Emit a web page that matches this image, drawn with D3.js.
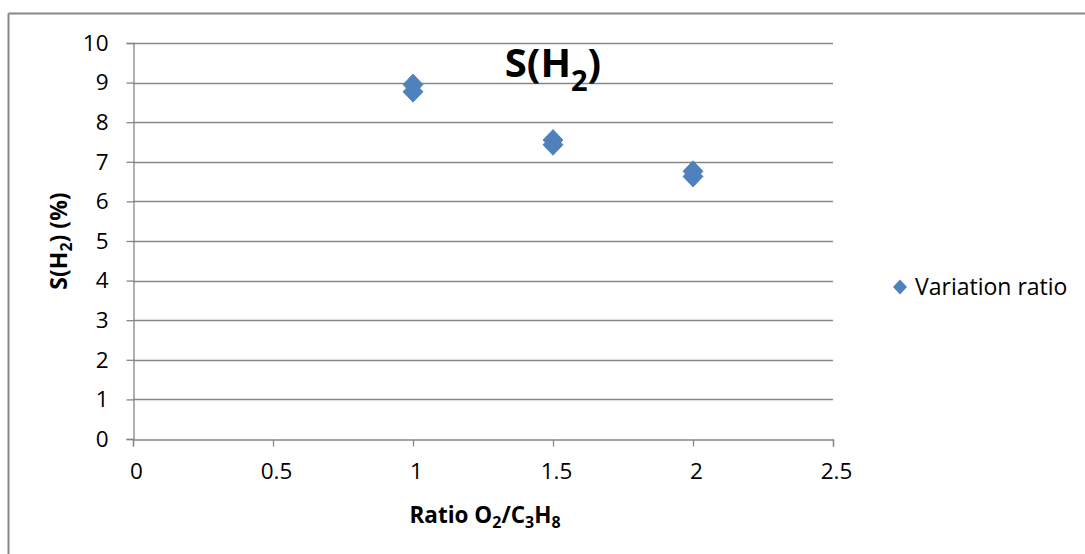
<!DOCTYPE html>
<html>
<head>
<meta charset="utf-8">
<script src="https://cdn.jsdelivr.net/npm/d3@7/dist/d3.min.js"></script>
<style>
  html, body { margin: 0; padding: 0; background: #fff; }
  svg { display: block; }
  text { font-family: "Open Sans", "Noto Sans", sans-serif; fill: #000; }
</style>
</head>
<body>
<svg id="chart" width="1085" height="554"></svg>
<script>
// ---- data ----
const ratios = [1, 1, 1.5, 1.5, 2, 2];
const selectivityH2 = [8.95, 8.77, 7.55, 7.43, 6.76, 6.63];
const xTicks = [0, 0.5, 1, 1.5, 2, 2.5];
const yTicks = [0, 1, 2, 3, 4, 5, 6, 7, 8, 9, 10];
const seriesName = "Variation ratio";

(function () {
const svg = d3.select("#chart");
const W = 1085, H = 554;
const pLeft = 133, pRight = 833, pTop = 43, pBottom = 439;
const gridColor = "#868686";
const blue = "#4F81BD";

// outer frame (top and left edges visible)
svg.append("line").attr("x1", 8.5).attr("x2", 1085).attr("y1", 13.5).attr("y2", 13.5)
  .attr("stroke", "#878787").attr("stroke-width", 2);
svg.append("line").attr("x1", 8.5).attr("x2", 8.5).attr("y1", 13.5).attr("y2", H)
  .attr("stroke", "#878787").attr("stroke-width", 2);

const x = d3.scaleLinear().domain([0, 2.5]).range([pLeft, pRight]);
const y = d3.scaleLinear().domain([0, 10]).range([pBottom, pTop]);

// gridlines
svg.append("g").selectAll("line").data(yTicks.filter(d => d > 0)).join("line")
  .attr("x1", pLeft).attr("x2", pRight)
  .attr("y1", d => Math.round(y(d)) + 0.5).attr("y2", d => Math.round(y(d)) + 0.5)
  .attr("stroke", gridColor).attr("stroke-width", 1.3);

// y axis
const yAxis = d3.axisLeft(y).tickValues(yTicks).tickSize(7).tickPadding(18).tickFormat(d3.format("d"));
const gy = svg.append("g").attr("transform", `translate(${pLeft + 0.5},0)`).call(yAxis);
gy.select(".domain").attr("stroke", gridColor).attr("stroke-width", 1.3);
gy.selectAll(".tick line").attr("stroke", gridColor).attr("stroke-width", 1.3);
gy.selectAll(".tick text").attr("font-size", 22.5).attr("font-family", "Open Sans").attr("fill", "#000");

// x axis
const xAxis = d3.axisBottom(x).tickValues(xTicks).tickSize(7).tickPadding(17).tickFormat(d => String(d));
const gx = svg.append("g").attr("transform", `translate(0,${pBottom + 0.5})`).call(xAxis);
gx.select(".domain").attr("stroke", gridColor).attr("stroke-width", 1.3);
gx.selectAll(".tick line").attr("stroke", gridColor).attr("stroke-width", 1.3);
gx.selectAll(".tick text").attr("font-size", 22.5).attr("font-family", "Open Sans").attr("fill", "#000")
  .attr("dx", 3);

// points (diamonds)
const diamond = (cx, cy, hw, hh) => `M${cx},${cy - hh}L${cx + hw},${cy}L${cx},${cy + hh}L${cx - hw},${cy}Z`;
svg.append("g").selectAll("path").data(ratios.map((r, i) => [r, selectivityH2[i]])).join("path")
  .attr("d", d => diamond(x(d[0]), y(d[1]), 10, 10.5))
  .attr("fill", blue).attr("stroke", "#4A7DBA").attr("stroke-width", 0.8);

// title
const title = svg.append("text").attr("x", 553).attr("y", 77).attr("text-anchor", "middle")
  .attr("font-weight", "bold").attr("font-size", 40);
title.append("tspan").text("S(H");
title.append("tspan").text("2").attr("font-size", 29).attr("dy", 14);
title.append("tspan").text(")").attr("dy", -14);

// y axis title
const yt = svg.append("text").attr("transform", "translate(67,241) rotate(-90)")
  .attr("text-anchor", "middle").attr("font-weight", "bold").attr("font-size", 23);
yt.append("tspan").text("S(H");
yt.append("tspan").text("2").attr("font-size", 16).attr("dy", 5);
yt.append("tspan").text(") (%)").attr("dy", -5);

// x axis title
const xt = svg.append("text").attr("x", 485).attr("y", 523).attr("text-anchor", "middle")
  .attr("font-weight", "bold").attr("font-size", 22.5);
xt.append("tspan").text("Ratio O");
xt.append("tspan").text("2").attr("font-size", 16).attr("dy", 5);
xt.append("tspan").text("/C").attr("dy", -5);
xt.append("tspan").text("3").attr("font-size", 16).attr("dy", 5);
xt.append("tspan").text("H").attr("dy", -5);
xt.append("tspan").text("8").attr("font-size", 16).attr("dy", 5);

// legend
svg.append("path").attr("d", diamond(900, 287, 7, 7.5)).attr("fill", blue);
svg.append("text").attr("x", 915).attr("y", 295).attr("font-size", 23).text(seriesName);
})();
</script>
</body>
</html>
